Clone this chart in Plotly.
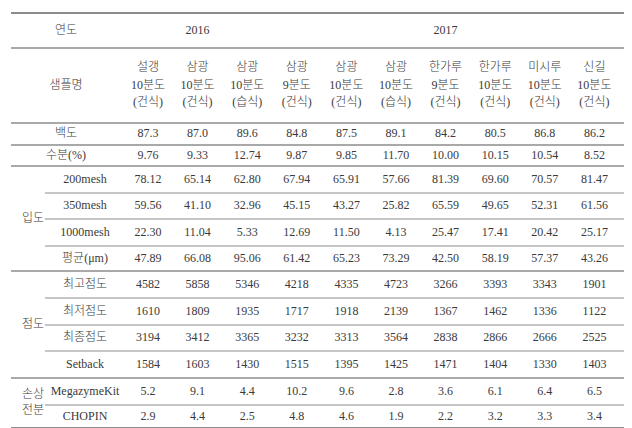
import plotly.graph_objects as go

# table content
years = ["2016", "2017"]
year_span = [3, 7]
cultivar = ["설갱", "삼광", "삼광", "삼광", "삼광", "삼광", "한가루", "한가루", "미시루", "신길"]
grade = ["10분도", "10분도", "10분도", "9분도", "10분도", "10분도", "9분도", "10분도", "10분도", "10분도"]
method = ["(건식)", "(건식)", "(습식)", "(건식)", "(건식)", "(습식)", "(건식)", "(건식)", "(건식)", "(건식)"]

row_labels = ["백도", "수분(%)", "200mesh", "350mesh", "1000mesh", "평균(μm)",
              "최고점도", "최저점도", "최종점도", "Setback", "MegazymeKit", "CHOPIN"]
groups = ["", "", "입도", "점도", "손상<br>전분"]
group_size = [1, 1, 4, 4, 2]

whiteness = ["87.3", "87.0", "89.6", "84.8", "87.5", "89.1", "84.2", "80.5", "86.8", "86.2"]
moisture = ["9.76", "9.33", "12.74", "9.87", "9.85", "11.70", "10.00", "10.15", "10.54", "8.52"]
mesh200 = ["78.12", "65.14", "62.80", "67.94", "65.91", "57.66", "81.39", "69.60", "70.57", "81.47"]
mesh350 = ["59.56", "41.10", "32.96", "45.15", "43.27", "25.82", "65.59", "49.65", "52.31", "61.56"]
mesh1000 = ["22.30", "11.04", "5.33", "12.69", "11.50", "4.13", "25.47", "17.41", "20.42", "25.17"]
mean_um = ["47.89", "66.08", "95.06", "61.42", "65.23", "73.29", "42.50", "58.19", "57.37", "43.26"]
peak_visc = ["4582", "5858", "5346", "4218", "4335", "4723", "3266", "3393", "3343", "1901"]
trough_visc = ["1610", "1809", "1935", "1717", "1918", "2139", "1367", "1462", "1336", "1122"]
final_visc = ["3194", "3412", "3365", "3232", "3313", "3564", "2838", "2866", "2666", "2525"]
setback = ["1584", "1603", "1430", "1515", "1395", "1425", "1471", "1404", "1330", "1403"]
megazyme = ["5.2", "9.1", "4.4", "10.2", "9.6", "2.8", "3.6", "6.1", "6.4", "6.5"]
chopin = ["2.9", "4.4", "2.5", "4.8", "4.6", "1.9", "2.2", "3.2", "3.3", "3.4"]

values = [whiteness, moisture, mesh200, mesh350, mesh1000, mean_um,
          peak_visc, trough_visc, final_visc, setback, megazyme, chopin]

# grid layout (pixels)
left, right = 3, 623
inner_left = 37
group_x, item_x, merged_x = 25, 77, 58
col0, pitch = 140, 49.6
header_h = [35, 75]
row_h = [22, 21, 27, 26, 27, 25, 27, 27, 26, 27, 27, 23]
top = 5

col_x = [col0 + pitch * i for i in range(len(cultivar))]
edges = [top]
for h in header_h + row_h:
    edges.append(edges[-1] + h)
row_y = [(edges[i + 2] + edges[i + 3]) / 2 for i in range(len(row_h))]
year_y = (edges[0] + edges[1]) / 2
name_y = (edges[1] + edges[2]) / 2

font = dict(family="Liberation Serif, Noto Sans CJK KR, serif", size=12,
            color="#3a3a3a", weight=300)

tx, ty, tt = [], [], []

def add(x, y, t):
    tx.append(x); ty.append(y); tt.append(t)

add(merged_x, year_y, "연도")
start = 0
for yr, n in zip(years, year_span):
    add((col_x[start] + col_x[start + n - 1]) / 2, year_y, yr)
    start += n

add(merged_x, name_y, "샘플명")
for i, x in enumerate(col_x):
    add(x, name_y - 17.5, cultivar[i])
    add(x, name_y, grade[i])
    add(x, name_y + 17.5, method[i])

r = 0
partial = []
full = [edges[0], edges[1], edges[2]]
for g, n in zip(groups, group_size):
    if g:
        add(group_x, (edges[r + 2] + edges[r + 2 + n]) / 2, g)
    for k in range(n):
        add(item_x if g else merged_x, row_y[r], row_labels[r])
        for i, x in enumerate(col_x):
            add(x, row_y[r], values[r][i])
        if k < n - 1:
            partial.append(edges[r + 3])
        r += 1
    full.append(edges[r + 2])

fig = go.Figure(go.Scatter(x=tx, y=ty, text=tt, mode="text", textfont=font,
                           cliponaxis=False, hoverinfo="skip"))

shapes = []
for y in full:
    outer = y in (edges[0], edges[-1])
    shapes.append(dict(type="line", x0=left, x1=right, y0=y, y1=y, xref="x", yref="y",
                       line=dict(color="#666666" if outer else "#8c8c8c", width=1.5 if outer else 1.3)))
for y in partial:
    shapes.append(dict(type="line", x0=inner_left, x1=right, y0=y, y1=y, xref="x", yref="y",
                       line=dict(color="#8c8c8c", width=1.2)))

fig.update_layout(width=632, height=428, margin=dict(l=0, r=0, t=0, b=0),
                  plot_bgcolor="white", paper_bgcolor="white", showlegend=False,
                  shapes=shapes,
                  xaxis=dict(range=[0, 632], visible=False, fixedrange=True),
                  yaxis=dict(range=[428, 0], visible=False, fixedrange=True))

fig.write_html("out.html")
